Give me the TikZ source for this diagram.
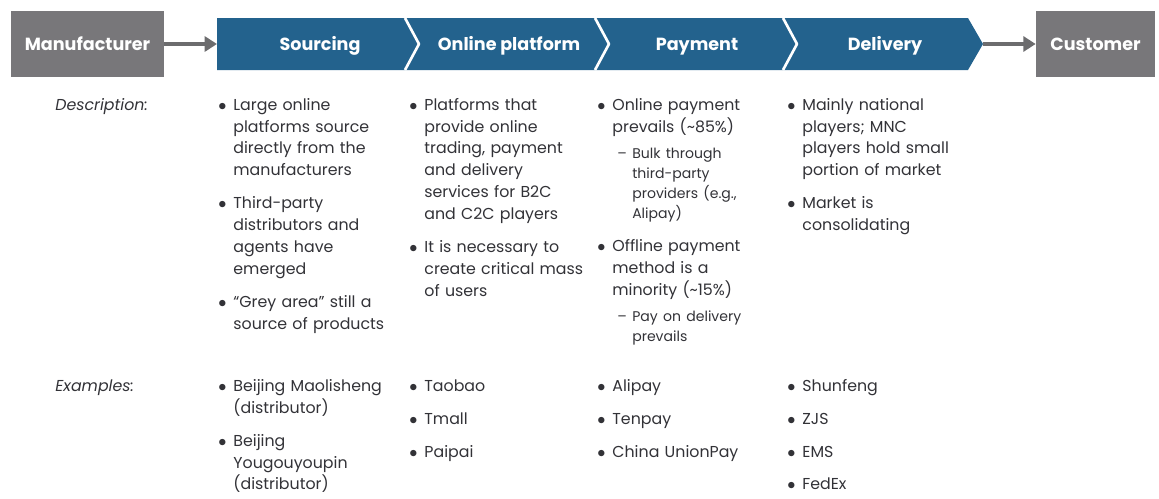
\documentclass[tikz,border=0pt]{standalone}
\usepackage{fontspec}
\setmainfont{Poppins}
\usetikzlibrary{arrows.meta}
\definecolor{chainblue}{RGB}{35,98,141}
\definecolor{boxgray}{RGB}{120,119,122}
\definecolor{arrgray}{RGB}{108,108,110}
\definecolor{txtgray}{RGB}{50,50,55}
% bullet and dash items for the text columns
\newlength\bind \setlength\bind{8pt}
\newcommand\br{\hfil\break}
\newcommand\bpt[1]{\hangindent\bind\hangafter1\noindent\hbox to\bind{\hskip-0.6pt$\bullet$\hss}#1\par}
\newcommand\spt[1]{{\fontsize{8}{11.4}\selectfont\parskip=3.5pt
  \hangindent19.3pt\hangafter1\noindent\hskip10.8pt\hbox to 8.5pt{--\hss}#1\par}}
\tikzset{
  endbox/.style={fill=boxgray, text=white, inner sep=0pt, minimum width=3.06cm,
    minimum height=1.34cm, text height=7pt, text depth=0pt,
    font=\fontsize{10}{12}\selectfont\bfseries},
  stage/.style={text=white, inner sep=0pt, text height=7pt, text depth=0pt,
    font=\fontsize{10}{12}\selectfont\bfseries},
  sep/.style={draw=white, line width=1.5pt},
  flow/.style={->, draw=arrgray, line width=2.8pt},
  rowlab/.style={anchor=base west, inner sep=0pt, text=txtgray,
    font=\fontsize{9}{12.52}\selectfont\itshape},
  col/.style={anchor=base west, inner sep=0pt, text width=3.9cm, text=txtgray,
    font=\fontsize{9}{12.52}\selectfont,
    execute at begin node={\setlength\parskip{6.26pt}}}
}
\begin{document}
\begin{tikzpicture}[x=0.02cm, y=-0.02cm, line join=round,
  >={Triangle[length=7pt,width=8.5pt]}]
\useasboundingbox (0,0) rectangle (1159,498);
% value chain bar
\fill[chainblue] (217,18) -- (968,18) -- (983,44) -- (968,70) -- (217,70) -- cycle;
\foreach \x in {405,595,783}
  \draw[sep] (\x,18) -- (\x+14,44) -- (\x,70);
\node[stage] (src) at (320,44) {Sourcing};
\node[stage] (plat) at (509,44) {Online platform};
\node[stage] (pay) at (697,44) {Payment};
\node[stage] (dlv) at (885,44) {Delivery};
\coordinate (barin) at (217,44);
\coordinate (barout) at (983,44);
% ends of the chain
\node[endbox] (mfr) at (87.5,44) {Manufacturer};
\node[endbox, minimum width=2.38cm] (cust) at (1095.5,44) {Customer};
\draw[flow] (mfr) -- (barin);
\draw[flow] (barout) -- (cust);
% description row
\node[rowlab] (desc) at (55,110) {Description:};
\node[col] (d1) at (219,110) {%
\bpt{Large online\br platforms source\br directly from the\br manufacturers}
\bpt{Third-party\br distributors and\br agents have\br emerged}
\bpt{“Grey area” still a\br source of products}};
\node[col] (d2) at (410,110) {%
\bpt{Platforms that\br provide online\br trading, payment\br and delivery\br services for B2C\br and C2C players}
\bpt{It is necessary to\br create critical mass\br of users}};
\node[col] (d3) at (598,110) {%
\bpt{Online payment\br prevails (\textasciitilde85\%)}
\spt{Bulk through\br third-party\br providers (e.g.,\br Alipay)}
\bpt{Offline payment\br method is a\br minority (\textasciitilde15\%)}
\spt{Pay on delivery\br prevails}};
\node[col] (d4) at (788,110) {%
\bpt{Mainly national\br players; MNC\br players hold small\br portion of market}
\bpt{Market is\br consolidating}};
% examples row
\node[rowlab] (exm) at (55,391) {Examples:};
\node[col] (e1) at (219,391) {%
\bpt{Beijing Maolisheng\br (distributor)}
\bpt{Beijing\br Yougouyoupin\br (distributor)}};
\node[col] (e2) at (410,391) {\bpt{Taobao}\bpt{Tmall}\bpt{Paipai}};
\node[col] (e3) at (598,391) {\bpt{Alipay}\bpt{Tenpay}\bpt{China UnionPay}};
\node[col] (e4) at (788,391) {\bpt{Shunfeng}\bpt{ZJS}\bpt{EMS}\bpt{FedEx}};
\end{tikzpicture}
\end{document}
